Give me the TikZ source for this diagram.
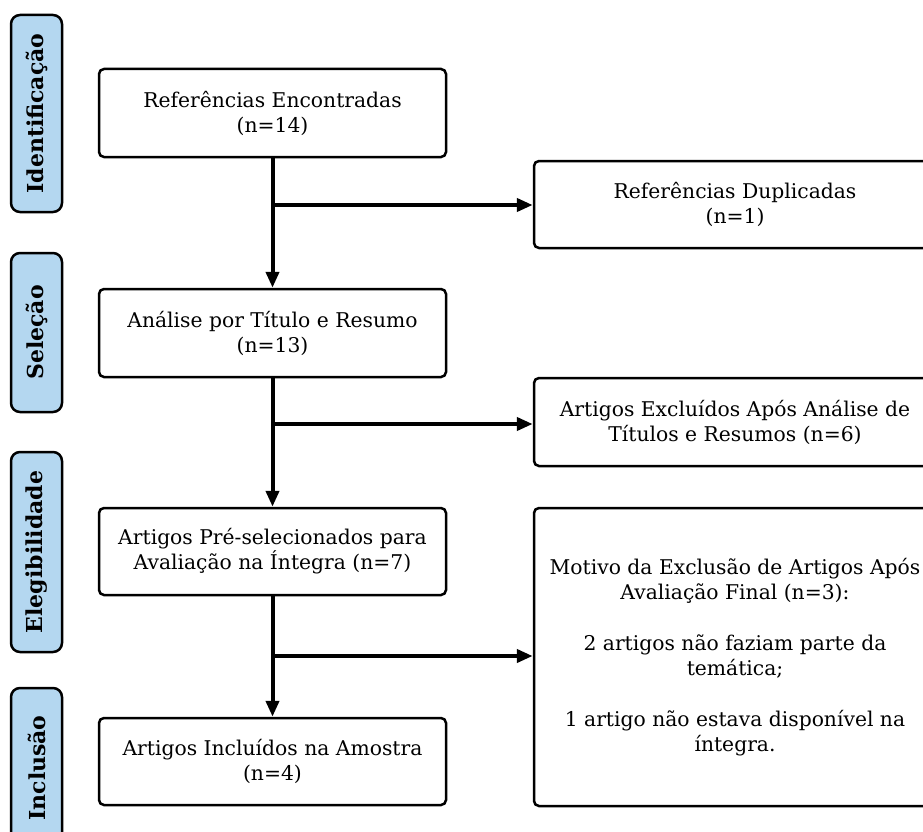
\documentclass[tikz,border=0pt]{standalone}
\usepackage{fontspec}
\setmainfont{DejaVu Serif}
\usetikzlibrary{arrows.meta}
\definecolor{tabblue}{RGB}{180,215,240}

\begin{document}
\begin{tikzpicture}[x=1pt,y=-1pt,
  stagebox/.style={draw=black,line width=2.5pt,rounded corners=5pt,minimum width=347pt,minimum height=88pt,inner sep=0pt,align=center,font=\fontsize{20.3}{25}\selectfont},
  sidebox/.style={stagebox,minimum width=402pt},
  phasetab/.style={draw=black,fill=tabblue,line width=2.5pt,rounded corners=9pt,minimum height=51pt,inner sep=0pt,rotate=90,font=\bfseries\fontsize{22}{24}\selectfont},
  flow/.style={line width=4pt,-{Triangle[length=16pt,width=13pt]}}]
\useasboundingbox (0,0) rectangle (923,832);
\clip (0,0) rectangle (923,832);
% phases
\node[phasetab,minimum width=197pt] (tabid) at (36.5,113.5) {Identificação};
\node[phasetab,minimum width=159pt] (tabsel) at (36.5,332.5) {Seleção};
\node[phasetab,minimum width=200pt] (tabeleg) at (36.5,552) {Elegibilidade};
\node[phasetab,minimum width=160pt] (tabinc) at (36.5,768) {Inclusão};
% main column
\node[stagebox] (found) at (272.5,113) {Referências Encontradas\\(n=14)};
\node[stagebox] (screen) at (272.5,333) {Análise por Título e Resumo\\(n=13)};
\node[stagebox,minimum height=87pt] (full) at (272.5,551.5) {Artigos Pré-selecionados para\\Avaliação na Íntegra (n=7)};
\node[stagebox,minimum height=87pt] (incl) at (272.5,761.5) {Artigos Incluídos na Amostra\\(n=4)};
% excluded
\node[sidebox,minimum height=87pt] (dup) at (735,204.5) {Referências Duplicadas\\(n=1)};
\node[sidebox] (excl) at (735,422) {Artigos Excluídos Após Análise de\\Títulos e Resumos (n=6)};
\node[sidebox,minimum height=298pt] (reason) at (735,657) {Motivo da Exclusão de Artigos Após\\Avaliação Final (n=3):\\[26pt]2 artigos não faziam parte da\\temática;\\[26pt]1 artigo não estava disponível na\\íntegra.};
% arrows
\draw[flow] (found) -- (screen);
\draw[flow] (screen) -- (full);
\draw[flow] (full) -- (incl);
\coordinate (j1) at (272.5,205);
\coordinate (j2) at (272.5,424);
\coordinate (j3) at (272.5,656);
\draw[flow] (j1) -- (j1 -| dup.west);
\draw[flow] (j2) -- (j2 -| excl.west);
\draw[flow] (j3) -- (j3 -| reason.west);
\end{tikzpicture}
\end{document}
